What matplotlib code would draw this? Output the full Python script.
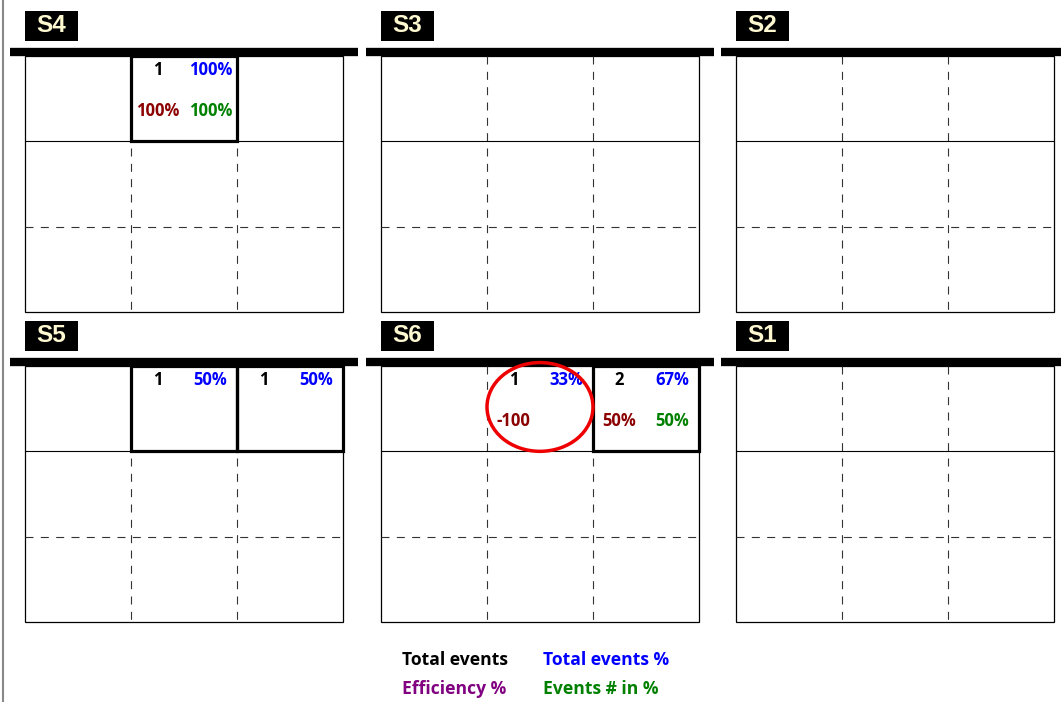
import matplotlib
matplotlib.use('Agg')
import matplotlib.pyplot as plt
from matplotlib.patches import Rectangle, Ellipse

# panels, in reading order (top row then bottom row)
panels = ['S4', 'S3', 'S2', 'S5', 'S6', 'S1']

# filled cells
cell_panel = ['S4', 'S5', 'S5', 'S6', 'S6']
cell_row = [0, 0, 0, 0, 0]
cell_col = [1, 1, 2, 1, 2]
total_events = [1, 1, 1, 1, 2]
total_events_pct = ['100%', '50%', '50%', '33%', '67%']
efficiency = ['100%', '', '', '-100', '50%']
events_in_pct = ['100%', '', '', '', '50%']
boxed = [True, True, True, False, True]
circled = [False, False, False, True, False]

legend_labels = ['Total events', 'Total events %', 'Efficiency %', 'Events # in %']
legend_colors = ['black', '#0000ff', '#800080', '#008000']

W, H = 1061, 702
fig = plt.figure(figsize=(W / 100, H / 100), dpi=100)
fig.patch.set_facecolor('white')

txt_font = ['Open Sans', 'DejaVu Sans']
lefts = [25, 381, 736]
tops = [56, 366]
pw, ph = 318, 256
dash = (7.2, 6.6)

# thin grey line on the left edge
fig.add_artist(plt.Line2D([3 / W, 3 / W], [0, 1], color='#888888', lw=1.5))

axes = {}
for i, name in enumerate(panels):
    x0 = lefts[i % 3]
    y0 = tops[i // 3]
    ax = fig.add_axes([x0 / W, 1 - (y0 + ph) / H, pw / W, ph / H])
    ax.set_xlim(0, 3)
    ax.set_ylim(3, 0)
    ax.axis('off')
    axes[name] = ax

    # grid
    ax.add_patch(Rectangle((0, 0), 3, 3, fill=False, ec='black', lw=0.9, clip_on=False))
    for c in [1, 2]:
        ax.plot([c, c], [0, 3], color='#333333', lw=0.8, dashes=dash)
    ax.plot([0, 3], [1, 1], color='black', lw=0.8)
    ax.plot([0, 3], [2, 2], color='#333333', lw=0.8, dashes=dash)

    # thick header bar
    ax.plot([-15 / pw, 1 + 15 / pw], [1 + 4.5 / ph, 1 + 4.5 / ph], color='black', lw=6,
            solid_capstyle='butt', transform=ax.transAxes, clip_on=False)

    # label box
    ax.add_patch(Rectangle((0, 1 + 15 / ph), 53 / pw, 30 / ph, transform=ax.transAxes,
                           fc='black', ec='none', clip_on=False))
    ax.text(26.5 / pw, 1 + 30 / ph, name, transform=ax.transAxes, ha='center', va='center',
            color='#fdf8d0', fontsize=17.5, fontweight='bold', family='Liberation Sans')

for i in range(len(cell_panel)):
    ax = axes[cell_panel[i]]
    r, c = cell_row[i], cell_col[i]
    if boxed[i]:
        ax.add_patch(Rectangle((c, r), 1, 1, fill=False, ec='black', lw=2.3, zorder=5, clip_on=False))
    ax.text(c + 0.25, r + 0.16, str(total_events[i]), ha='center', va='center',
            color='black', fontsize=12, fontweight='bold', family=txt_font)
    ax.text(c + 0.75, r + 0.16, total_events_pct[i], ha='center', va='center',
            color='#0000ff', fontsize=12, fontweight='bold', family=txt_font)
    ax.text(c + 0.25, r + 0.64, efficiency[i], ha='center', va='center',
            color='#8b0000', fontsize=12, fontweight='bold', family=txt_font)
    ax.text(c + 0.75, r + 0.64, events_in_pct[i], ha='center', va='center',
            color='#008000', fontsize=12, fontweight='bold', family=txt_font)
    if circled[i]:
        ax.add_patch(Ellipse((c + 0.5, r + 0.48), 1.0, 1.04, fill=False, ec='#ee0000',
                             lw=2.5, zorder=6, clip_on=False))

# legend
leg_x = [402, 543, 402, 543]
leg_y = [660, 660, 689, 689]
for lab, col, lx, ly in zip(legend_labels, legend_colors, leg_x, leg_y):
    fig.text(lx / W, 1 - ly / H, lab, ha='left', va='center', color=col,
             fontsize=12.6, fontweight='bold', family=txt_font)

fig.savefig('out.png', dpi=100, facecolor='white')
